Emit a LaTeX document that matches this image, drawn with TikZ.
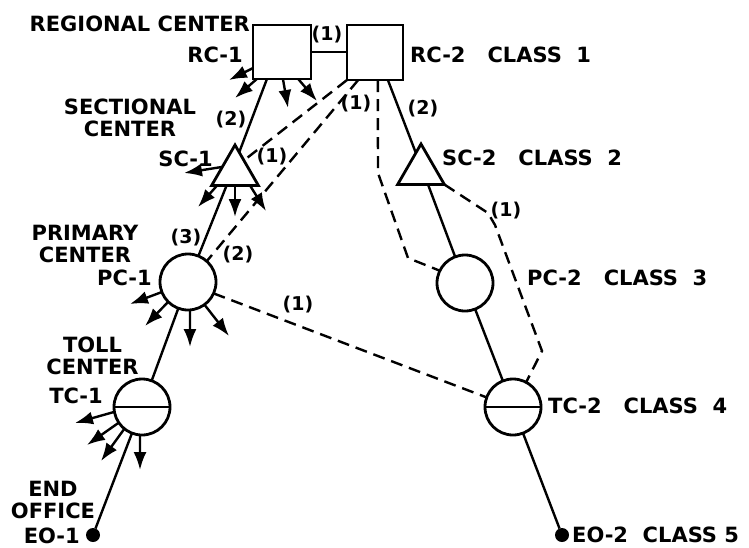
\documentclass[tikz,border=0pt]{standalone}
\usepackage{fontspec}
\setmainfont{DejaVu Sans}
\usetikzlibrary{arrows.meta,calc,shapes.geometric}
\begin{document}
\begin{tikzpicture}[x=1pt,y=-1pt,
  shapeline/.style={line width=2.8pt},
  link/.style={line width=2.4pt},
  altlink/.style={line width=2.4pt, dash pattern=on 12pt off 7pt},
  outarrow/.style={line width=2.4pt, -{Latex[length=18pt,width=13pt]}},
  centerbox/.style={draw, shapeline, fill=white, inner sep=0pt, outer sep=0pt, minimum width=56pt, minimum height=54pt},
  sectional/.style={draw, shapeline, fill=white, regular polygon, regular polygon sides=3, minimum size=54pt, inner sep=0pt, outer sep=0pt},
  office/.style={draw, shapeline, fill=white, circle, minimum size=56pt, inner sep=0pt, outer sep=0pt},
  endoffice/.style={circle, fill=black, minimum size=14pt, inner sep=0pt, outer sep=0pt},
  lbl/.style={font=\bfseries\fontsize{21}{22}\selectfont, inner sep=0pt, align=center},
  num/.style={font=\bfseries\fontsize{19}{20}\selectfont, inner sep=0pt}
]
\useasboundingbox (0,0) rectangle (749,547);

% ---- offices
\node[centerbox, minimum width=58pt] (RC1) at (282,52) {};
\node[centerbox, minimum height=55pt] (RC2) at (375,52.5) {};
\node[sectional] (SC1) at (235,172) {};
\node[sectional] (SC2) at (421,171) {};
\node[office] (PC1) at (188,282) {};
\node[office] (PC2) at (465,283) {};
\node[office] (TC1) at (142,407) {};
\node[office] (TC2) at (513,407) {};
\node[endoffice] (EO1) at (93,535) {};
\node[endoffice] (EO2) at (562,535) {};
\draw[shapeline] (TC1.west) -- (TC1.east);
\draw[shapeline] (TC2.west) -- (TC2.east);

% ---- bend points and free arrow ends
\coordinate (D3a) at (378,173);
\coordinate (D3b) at (408,258);
\coordinate (D4a) at (488,213);
\coordinate (D4b) at (495,225);
\coordinate (D4c) at (542,351);
\coordinate (r1a) at (229,80);
\coordinate (r1b) at (235,98);
\coordinate (r1c) at (288,108);
\coordinate (r1d) at (317,101);
\coordinate (s1a) at (184,173);
\coordinate (s1b) at (198,207);
\coordinate (s1c) at (235,217);
\coordinate (s1d) at (266,211);
\coordinate (p1a) at (130,304);
\coordinate (p1b) at (145,326);
\coordinate (p1c) at (190,347);
\coordinate (p1d) at (229,336);
\coordinate (t1a) at (75,423);
\coordinate (t1b) at (87,445);
\coordinate (t1c) at (101,461);
\coordinate (t1d) at (140,470);

% ---- final (hierarchical) routes
\draw[link] ($(RC1.south west)!0.24!(RC1.south east)$) -- ($(SC1.corner 1)!0.18!(SC1.corner 3)$);
\draw[link] ($(SC1.corner 2)!0.32!(SC1.corner 3)$) -- (PC1);
\draw[link] (PC1) -- (TC1);
\draw[link] (TC1) -- (EO1);
\draw[link] ($(RC2.south west)!0.73!(RC2.south east)$) -- ($(SC2.corner 1)!0.22!(SC2.corner 2)$);
\draw[link] ($(SC2.corner 2)!0.65!(SC2.corner 3)$) -- (PC2);
\draw[link] (PC2) -- (TC2);
\draw[link] (TC2) -- (EO2);
\draw[link] (RC1.east) -- (RC1.east -| RC2.west);

% ---- high-usage routes
\draw[altlink] (RC2.south west) -- ($(SC1.corner 1)!0.38!(SC1.corner 3)$);
\draw[altlink] ($(RC2.south west)!0.2!(RC2.south east)$) -- (PC1.48);
\draw[altlink] ($(RC2.south west)!0.55!(RC2.south east)$) -- (D3a) -- (D3b) -- (PC2.154);
\draw[altlink] (SC2.corner 3) -- (D4a) -- (D4b) -- (D4c) -- (TC2.62);
\draw[altlink] (PC1.-24) -- (TC2.160);

% ---- routes to other offices
\draw[outarrow] (RC1.209) -- (r1a);
\draw[outarrow] (RC1.227) -- (r1b);
\draw[outarrow] (RC1.272) -- (r1c);
\draw[outarrow] (RC1.301) -- (r1d);
\draw[outarrow] (SC1.158) -- (s1a);
\draw[outarrow] (SC1.217) -- (s1b);
\draw[outarrow] (SC1.270) -- (s1c);
\draw[outarrow] (SC1.318) -- (s1d);
\draw[outarrow] (PC1.201) -- (p1a);
\draw[outarrow] (PC1.225) -- (p1b);
\draw[outarrow] (PC1.274) -- (p1c);
\draw[outarrow] (PC1.306) -- (p1d);
\draw[outarrow] (TC1.190) -- (t1a);
\draw[outarrow] (TC1.214) -- (t1b);
\draw[outarrow] (TC1.231) -- (t1c);
\draw[outarrow] (TC1.266) -- (t1d);

% ---- labels
\node[lbl, anchor=base east] (tRegional) at (250,31) {REGIONAL CENTER};
\node[lbl, anchor=base east] (tRC1) at (243,62) {RC-1};
\node[lbl] (tSectional) at (130,117.5) {SECTIONAL\\CENTER};
\node[lbl, anchor=base east] (tSC1) at (213,166) {SC-1};
\node[lbl] (tPrimary) at (85,243.5) {PRIMARY\\CENTER};
\node[lbl, anchor=base east] (tPC1) at (152,285) {PC-1};
\node[lbl] (tToll) at (92.5,356) {TOLL\\CENTER};
\node[lbl, anchor=base east] (tTC1) at (103,403) {TC-1};
\node[lbl] (tEnd) at (53,500) {END\\OFFICE};
\node[lbl, anchor=base east] (tEO1) at (80,543) {EO-1};
\node[lbl, anchor=base west] (tRC2) at (410,62) {RC-2\ \ \ CLASS\ \ 1};
\node[lbl, anchor=base west] (tSC2) at (442,165) {SC-2\ \ \ CLASS\ \ 2};
\node[lbl, anchor=base west] (tPC2) at (527,285) {PC-2\ \ \ CLASS\ \ 3};
\node[lbl, anchor=base west] (tTC2) at (548,413) {TC-2\ \ \ CLASS\ \ 4};
\node[lbl, anchor=base west] (tEO2) at (572,542) {EO-2\ \ CLASS\ 5};

\node[num] (n1) at (327,35) {(1)};
\node[num] (n2) at (231,120) {(2)};
\node[num] (n3) at (272,157) {(1)};
\node[num] (n4) at (356,104) {(1)};
\node[num] (n5) at (423,109) {(2)};
\node[num] (n6) at (186,238) {(3)};
\node[num] (n7) at (238,255) {(2)};
\node[num] (n8) at (298,305) {(1)};
\node[num] (n9) at (506,211) {(1)};
\end{tikzpicture}
\end{document}
